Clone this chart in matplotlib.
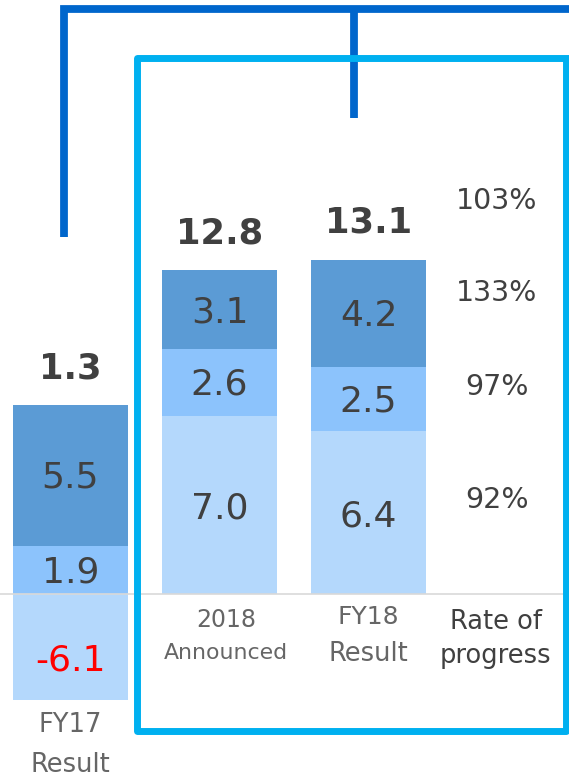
import matplotlib
matplotlib.use("Agg")
import matplotlib.pyplot as plt
from matplotlib.lines import Line2D
import numpy as np

# ---- data ----
cat_top = ["FY17", "2018", "FY18"]
cat_bottom = ["Result", "Announced", "Result"]
seg_light = [-6.1, 7.0, 6.4]
seg_mid = [1.9, 2.6, 2.5]
seg_dark = [5.5, 3.1, 4.2]
totals = [1.3, 12.8, 13.1]
rate_labels = ["92%", "97%", "133%", "103%"]
rate_title = ["Rate of", "progress"]

C_LIGHT = "#b4d8fc"
C_MID = "#8cc3fc"
C_DARK = "#5b9bd5"
C_TXT = "#404040"
C_CAT = "#666666"
C_FRAME = "#00b0f0"
C_BRACKET = "#0066cc"

W, H = 569, 778
fig = plt.figure(figsize=(W / 100, H / 100), dpi=100)
fig.patch.set_facecolor("white")

def fx(px):
    return px / W
def fy(py):
    return 1 - py / H

lw_dark = 5.6
lw_light = 5.0
fig.add_artist(Line2D([fx(64), fx(64), fx(575)], [fy(237), fy(9), fy(9)],
                      color=C_BRACKET, lw=lw_dark, solid_joinstyle="miter",
                      solid_capstyle="butt", zorder=1))
fig.add_artist(Line2D([fx(354), fx(354)], [fy(9), fy(118)],
                      color=C_BRACKET, lw=lw_dark, solid_capstyle="butt", zorder=1))

ax = fig.add_axes([0, (H - 700) / H, 1, 700 / H])
ax.set_facecolor("none")
ppu = 25.5
ax.set_ylim(-(700 - 594) / ppu, 594 / ppu)
ax.set_xlim(-70.5 / 149, (W - 70.5) / 149)
ax.axis("off")

x = np.arange(len(cat_top))
width = 115 / 149
seg_light_a = np.array(seg_light)
seg_mid_a = np.array(seg_mid)
seg_dark_a = np.array(seg_dark)
bottom_mid = np.maximum(seg_light_a, 0)
bottom_dark = bottom_mid + seg_mid_a

ax.bar(x, seg_light_a, width, color=C_LIGHT, zorder=2)
ax.bar(x, seg_mid_a, width, bottom=bottom_mid, color=C_MID, zorder=2)
ax.bar(x, seg_dark_a, width, bottom=bottom_dark, color=C_DARK, zorder=2)

ax.axhline(0, color="#d9d9d9", lw=1.2, zorder=3)

SEG_FS = 26
for i in range(len(x)):
    if seg_light[i] < 0:
        ax.text(x[i], -2.6, f"{seg_light[i]:.1f}", ha="center", va="center",
                fontsize=SEG_FS, color="#ff0000", zorder=4)
    else:
        ax.text(x[i], seg_light[i] / 2 - 0.15, f"{seg_light[i]:.1f}", ha="center",
                va="center", fontsize=SEG_FS, color=C_TXT, zorder=4)
    ax.text(x[i], bottom_mid[i] + seg_mid[i] / 2 - 0.1, f"{seg_mid[i]:.1f}",
            ha="center", va="center", fontsize=SEG_FS, color=C_TXT, zorder=4)
    ax.text(x[i], bottom_dark[i] + seg_dark[i] / 2 - 0.1, f"{seg_dark[i]:.1f}",
            ha="center", va="center", fontsize=SEG_FS, color=C_TXT, zorder=4)
    top = bottom_dark[i] + seg_dark[i]
    ax.text(x[i], top + 1.45, f"{totals[i]:.1f}", ha="center", va="center",
            fontsize=25.5, fontweight="bold", color=C_TXT, zorder=4)

cat_y = [(-5.14, -6.70), (-1.02, -2.31), (-0.90, -2.35)]
cat_sz = [(18.5, 18.5), (17, 15.8), (18, 18.5)]
cat_dx = [0, 0.045, 0]
for i in range(len(x)):
    ax.text(x[i] + cat_dx[i], cat_y[i][0], cat_top[i], ha="center", va="center",
            fontsize=cat_sz[i][0], color=C_CAT)
    ax.text(x[i] + cat_dx[i], cat_y[i][1], cat_bottom[i], ha="center", va="center",
            fontsize=cat_sz[i][1], color=C_CAT)

rx = (497 - 70.5) / 149
rate_y = [3.69, 8.1, 11.8, 15.4]
for lab, yy in zip(rate_labels, rate_y):
    ax.text(rx, yy, lab, ha="center", va="center", fontsize=20.5, color=C_TXT)
ax.text(rx - 0.01, -1.1, rate_title[0], ha="center", va="center", fontsize=18.5, color=C_TXT)
ax.text(rx - 0.01, -2.45, rate_title[1], ha="center", va="center", fontsize=18.5, color=C_TXT)

fig.add_artist(Line2D([fx(575), fx(137), fx(137), fx(566), fx(566)],
                      [fy(58), fy(58), fy(731), fy(731), fy(58)],
                      color=C_FRAME, lw=lw_light, solid_joinstyle="round",
                      solid_capstyle="butt", zorder=5))

fig.savefig("out.png", dpi=100, facecolor="white")
